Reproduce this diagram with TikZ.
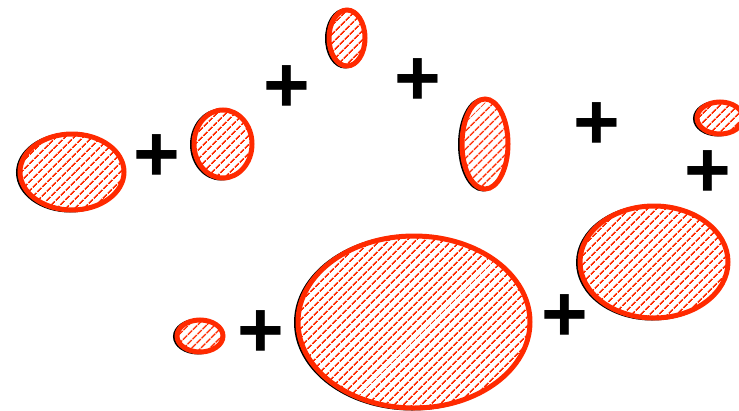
\documentclass[tikz,border=0pt]{standalone}
\usepackage{fontspec}
\setmainfont{Liberation Sans}
\usetikzlibrary{patterns.meta}
\definecolor{redor}{HTML}{FF2A00}
\tikzset{
  blob/.style={draw=redor, line width=5pt, fill=white, pattern={Lines[angle=45,distance=6.5pt,line width=1.6pt]}, pattern color=redor},
  shade/.style={draw=black, line width=4pt},
  plus/.style={font=\fontsize{80}{82}\selectfont\bfseries, inner sep=0pt}
}
\newcommand{\blobat}[4]{%
  \draw[shade] (#1-2,#2+0.5) ellipse [x radius=#3, y radius=#4];
  \fill[white] (#1,#2) ellipse [x radius=#3, y radius=#4];
  \draw[blob] (#1,#2) ellipse [x radius=#3, y radius=#4];
}
\begin{document}
\begin{tikzpicture}[x=1pt,y=-1pt]
\useasboundingbox (0,0) rectangle (739,410);
\begin{scope}
\clip (0,0) rectangle (739,410);
\blobat{72}{172}{52}{38}
\blobat{223}{144}{29}{34}
\blobat{347}{38}{18}{28}
\blobat{485}{144}{23}{45}
\blobat{720}{118}{23}{16}
\blobat{654}{262}{74}{56}
\blobat{414}{322}{116}{86}
\blobat{200}{336}{23}{16}
\end{scope}
\node[plus] (p1) at (157,158) {+};
\node[plus] (p2) at (287,89) {+};
\node[plus] (p3) at (418,82) {+};
\node[plus] (p4) at (597,126) {+};
\node[plus] (p5) at (708,174) {+};
\node[plus] (p6) at (261,334) {+};
\node[plus] (p7) at (565,318) {+};
\end{tikzpicture}
\end{document}
